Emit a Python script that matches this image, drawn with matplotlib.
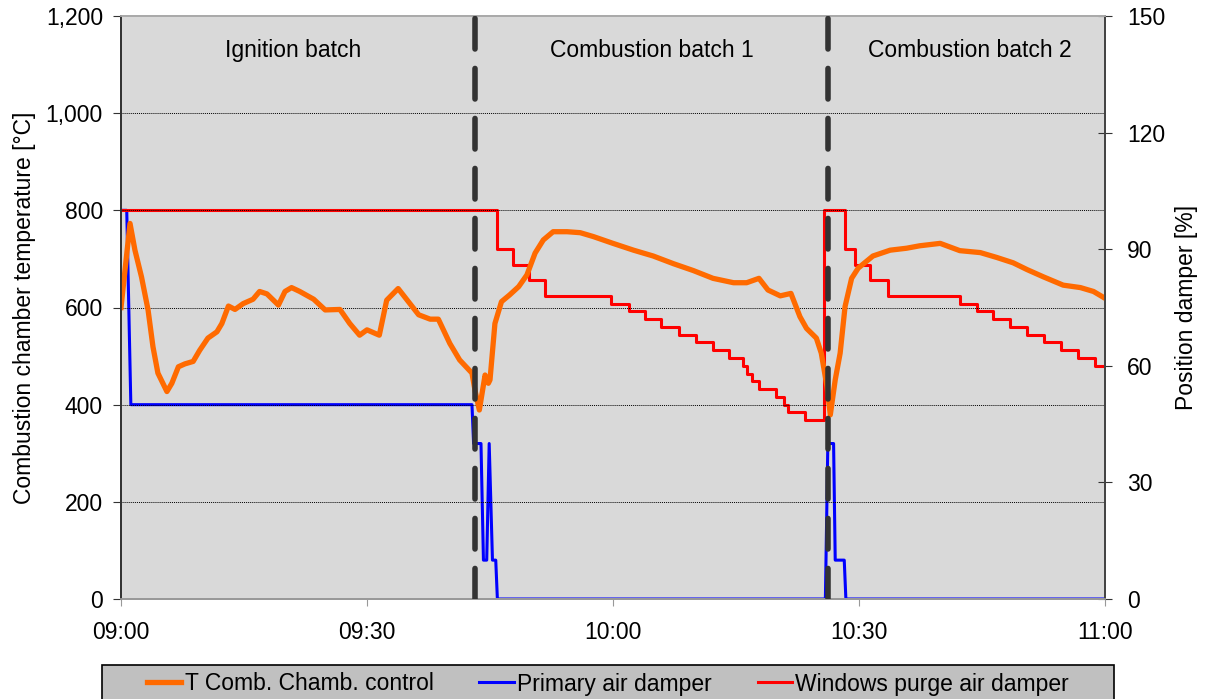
import matplotlib.pyplot as plt
from matplotlib.patches import Rectangle
from matplotlib.ticker import FuncFormatter

plt.rcParams['font.family'] = ['Liberation Sans', 'DejaVu Sans']

# minutes after 09:00
temp_t = [0, 1.1, 1.7, 2.5, 3.3, 3.9, 4.5, 5.6, 6.2, 7.0, 7.8, 8.8, 9.6, 10.6, 11.7,
          12.3, 13.1, 13.9, 14.9, 16.1, 16.9, 17.8, 19.2, 20.0, 20.8, 21.8, 23.5,
          24.9, 26.7, 27.9, 29.1, 30.0, 31.5, 32.4, 33.8, 36.3, 37.7, 38.7, 40.1,
          41.3, 42.8, 43.2, 43.7, 44.4, 44.8, 45.0, 45.6, 46.4, 47.4, 48.5, 49.5,
          50.5, 51.5, 52.7, 54.4, 56.0, 57.6, 60.0, 62.5, 64.9, 67.4, 69.8, 72.2,
          74.7, 76.3, 77.8, 78.9, 80.4, 81.7, 82.8, 83.6, 84.8, 85.4, 86.1, 86.5,
          87.1, 87.7, 88.3, 89.1, 89.9, 91.7, 93.8, 95.8, 97.4, 99.9, 102.3, 104.8,
          106.8, 108.8, 110.5, 112.5, 114.9, 117.0, 118.6, 120]
temp_c = [600, 773, 718, 663, 595, 519, 465, 427, 444, 478, 484, 489, 512, 537, 550,
          567, 603, 596, 608, 617, 633, 628, 605, 633, 641, 633, 617,
          595, 596, 567, 543, 554, 543, 615, 639, 585, 576, 576, 526,
          492, 465, 427, 389, 461, 444, 451, 567, 612, 626, 643, 667,
          712, 739, 756, 756, 754, 746, 732, 718, 706, 690, 676, 660,
          651, 651, 660, 636, 624, 629, 581, 557, 537, 506, 437, 379,
          451, 506, 602, 660, 681, 706, 718, 722, 727, 732, 717, 713,
          703, 692, 678, 663, 646, 641, 633, 619]

primary_t = [0, 0.7, 1.2, 42.8, 43.0, 43.9, 44.2, 44.6, 44.9, 45.3, 45.7, 45.9,
             85.9, 86.2, 86.9, 87.1, 88.2, 88.4, 120]
primary_pos = [100, 100, 50, 50, 40, 40, 10, 10, 40, 10, 10, 0,
               0, 40, 40, 10, 10, 0, 0]

purge_t = [0, 45.8, 47.75, 49.7, 51.7, 59.8, 61.9, 63.9, 65.9, 68.1, 70.1, 72.2,
           74.2, 75.9, 76.3, 76.9, 77.8, 79.9, 80.8, 81.3, 83.4, 85.7, 88.3, 89.5,
           91.3, 93.5, 102.3, 104.4, 106.4, 108.4, 110.5, 112.6, 114.6, 116.7,
           118.8, 120]
purge_pos = [100, 90, 86, 82, 78, 76, 74, 72, 70, 68, 66, 64,
             62, 60, 58, 56, 54, 52, 50, 48, 46, 100, 90, 86,
             82, 78, 76, 74, 72, 70, 68, 66, 64, 62,
             60, 60]

batch_starts = [43.2, 86.2]
batch_names = ['Ignition batch', 'Combustion batch 1', 'Combustion batch 2']
batch_label_t = [21, 64.8, 103.5]

x_ticks = [0, 30, 60, 90, 120]
x_labels = ['09:00', '09:30', '10:00', '10:30', '11:00']

FS = 16.5

fig = plt.figure(figsize=(12.07, 6.99), dpi=100)
ax = fig.add_axes([121 / 1207, 1 - 599 / 699, 984 / 1207, 583 / 699])
ax2 = ax.twinx()

# temperature axes drawn above the damper axes
ax.set_zorder(ax2.get_zorder() + 1)
ax.patch.set_visible(False)
ax2.patch.set_visible(True)
ax2.set_facecolor('#d9d9d9')

l2, = ax2.plot(primary_t, primary_pos, color='#0000ff', lw=2.2, label='Primary air damper')
l3, = ax2.plot(purge_t, purge_pos, color='#ff0000', lw=2.2, drawstyle='steps-post',
               label='Windows purge air damper')
l1, = ax.plot(temp_t, temp_c, color='#ff6a00', lw=3.8, label='T Comb. Chamb. control')

for t in batch_starts:
    ax.axvline(t, color='#333333', lw=4, dashes=(5.5, 3.5), dash_capstyle='round', zorder=5)

for name, t in zip(batch_names, batch_label_t):
    ax.text(t, 1130, name, ha='center', va='center', fontsize=FS)

ax.set_xlim(0, 120)
ax.set_ylim(0, 1200)
ax2.set_ylim(0, 150)
ax.set_xticks(x_ticks)
ax.set_xticklabels(x_labels)
ax.set_yticks(range(0, 1201, 200))
ax.yaxis.set_major_formatter(FuncFormatter(lambda v, p: f'{int(v):,}'))
ax2.set_yticks(range(0, 151, 30))

ax.grid(axis='y', color='black', ls=(0, (1, 1)), lw=0.7)
ax.yaxis.get_gridlines()[-1].set_visible(False)
ax.yaxis.get_gridlines()[0].set_visible(False)
ax.tick_params(axis='y', labelsize=FS, direction='out', length=6, color='#333333', pad=7)
ax.tick_params(axis='x', labelsize=FS, direction='out', length=5, color='#999999', pad=11)
ax2.tick_params(labelsize=FS, direction='inout', length=10, color='#333333', pad=11)

for a in (ax, ax2):
    a.spines['top'].set_color('#aaaaaa')
    a.spines['bottom'].set_color('#999999')
    a.spines['left'].set_color('#333333')
    a.spines['right'].set_color('#444444')
    for s in a.spines.values():
        s.set_linewidth(1.3)

ax.set_ylabel('Combustion chamber temperature [°C]', fontsize=FS, labelpad=7)
ax2.set_ylabel('Position damper [%]', fontsize=FS, labelpad=7)

# legend box
fig.patches.append(Rectangle((102 / 1207, -0.01), 1012 / 1207, 1 - 665 / 699 + 0.01,
                             transform=fig.transFigure, facecolor='#c0c0c0',
                             edgecolor='black', lw=1.2))
fig.legend(handles=[l1, l2, l3], loc='center', ncol=3,
           bbox_to_anchor=(608 / 1207, 1 - 684 / 699),
           fontsize=FS, frameon=False, handlelength=1.5,
           handletextpad=0.15, borderaxespad=0, columnspacing=2.0)

fig.savefig('out.png', dpi=100)
